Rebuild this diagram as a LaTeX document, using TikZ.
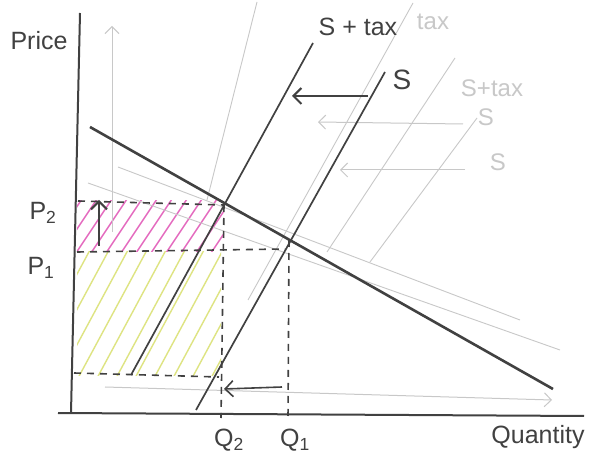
\documentclass[tikz,border=0pt]{standalone}
\usepackage{fontspec}
\setmainfont{Liberation Sans}
\usetikzlibrary{arrows.meta}
\definecolor{ink}{RGB}{65,65,65}
\definecolor{faint}{RGB}{200,200,200}
\definecolor{hpink}{RGB}{228,105,190}
\definecolor{hyellow}{RGB}{222,228,130}
\tikzset{
  axis/.style={draw=ink, line width=2pt},
  demand/.style={draw=ink, line width=2.6pt},
  supply/.style={draw=ink, line width=1.7pt},
  guide/.style={draw=ink, line width=1.6pt, dash pattern=on 7pt off 6pt},
  ghost/.style={draw=faint, line width=0.9pt},
  shift arrow/.style={draw=ink, line width=2pt, -{Straight Barb[length=8pt,width=16pt]}},
  ghost arrow/.style={draw=faint, line width=1pt, -{Straight Barb[length=7pt,width=14pt]}},
  lbl/.style={text=ink, font=\fontsize{25}{28}\selectfont, inner sep=0pt},
  ghostlbl/.style={text=faint, font=\fontsize{24}{27}\selectfont, inner sep=0pt},
}
\begin{document}
\begin{tikzpicture}[x=1pt,y=-1pt]
\useasboundingbox[fill=white] (0,0) rectangle (590,473);

% ---------- hatched areas ----------
\begin{scope}
  \clip (77,201) rectangle (224,252);
  \foreach \i in {0,...,16} {
    \draw[hpink, line width=1.4pt] (40+15*\i,262) -- (84+15*\i,196);
  }
\end{scope}
\begin{scope}
  \clip (77,252) rectangle (221,376);
  \foreach \i in {0,...,15} {
    \draw[hyellow, line width=1.4pt] (20+19*\i,380) -- (90+19*\i,250);
  }
\end{scope}

% ---------- faint erased pencil work ----------
\coordinate (gvA) at (112,232); \coordinate (gvB) at (112,26);
\draw[ghost arrow] (gvA) -- (gvB);
\coordinate (g1a) at (207,200); \coordinate (g1b) at (257,2);
\draw[ghost] (g1a) -- (g1b);
\coordinate (g2a) at (413,3); \coordinate (g2b) at (248,300);
\draw[ghost] (g2a) -- (g2b);
\coordinate (g3a) at (455,58); \coordinate (g3b) at (327,252);
\draw[ghost] (g3a) -- (g3b);
\coordinate (g4a) at (477,118); \coordinate (g4b) at (370,262);
\draw[ghost] (g4a) -- (g4b);
\coordinate (g5a) at (88,183); \coordinate (g5b) at (560,350);
\draw[ghost] (g5a) -- (g5b);
\coordinate (g6a) at (118,167); \coordinate (g6b) at (520,320);
\draw[ghost] (g6a) -- (g6b);
\coordinate (g7a) at (463,124); \coordinate (g7b) at (318,122);
\draw[ghost arrow] (g7a) -- (g7b);
\coordinate (g8a) at (465,170); \coordinate (g8b) at (340,170);
\draw[ghost arrow] (g8a) -- (g8b);
\coordinate (g9a) at (105,387); \coordinate (g9b) at (552,400);
\draw[ghost arrow] (g9a) -- (g9b);
\node[ghostlbl] (gtax) at (433,22) {tax};
\node[ghostlbl] (gstax) at (492,88) {S+tax};
\node[ghostlbl] (gs1) at (486,117) {S};
\node[ghostlbl] (gs2) at (498,162) {S};

% ---------- axes ----------
\coordinate (yTop) at (80,13);
\coordinate (origin) at (71,413);
\coordinate (xStart) at (58,413);
\coordinate (xEnd) at (584,416);
\draw[axis] (yTop) -- (origin);
\draw[axis] (xStart) -- (xEnd);

% ---------- curves ----------
\coordinate (dA) at (90,127);
\coordinate (dB) at (553,389);
\coordinate (sTop) at (385,72);
\coordinate (sBot) at (196,410);
\coordinate (tTop) at (313,43);
\coordinate (tBot) at (131,375);
\draw[demand] (dA) -- (dB);
\draw[supply] (sTop) -- (sBot);
\draw[supply] (tTop) -- (tBot);

\coordinate (E1) at (289,240);
\coordinate (E2) at (224,205);

% ---------- dashed guides ----------
\coordinate (p2L) at (78,201);
\coordinate (p1L) at (77,252);
\coordinate (p1R) at (285,249);
\coordinate (q2B) at (221,418);
\coordinate (q1B) at (288,421);
\coordinate (bL) at (74,373);
\coordinate (bR) at (219,377);
\draw[guide] (p2L) -- (E2);
\draw[guide] (p1L) -- (p1R);
\draw[guide] (E2) -- (q2B);
\draw[guide] (E1) -- (q1B);
\draw[guide] (bL) -- (bR);

% ---------- shift arrows ----------
\coordinate (aUpA) at (99,246); \coordinate (aUpB) at (99,200);
\draw[shift arrow] (aUpA) -- (aUpB);
\coordinate (aTopA) at (368,96); \coordinate (aTopB) at (292,96);
\draw[shift arrow] (aTopA) -- (aTopB);
\coordinate (aLowA) at (282,387); \coordinate (aLowB) at (224,389);
\draw[shift arrow, line width=1.6pt] (aLowA) -- (aLowB);

% ---------- labels ----------
\node[lbl] (price) at (39,41) {Price};
\node[lbl] (stax) at (358,27) {S + tax};
\node[lbl, font=\fontsize{28}{30}\selectfont] (slab) at (402,80) {S};
\node[lbl] (p2) at (43,213) {P\textsubscript{2}};
\node[lbl] (p1) at (41,268) {P\textsubscript{1}};
\node[lbl] (q2) at (229,440) {Q\textsubscript{2}};
\node[lbl] (q1) at (295,440) {Q\textsubscript{1}};
\node[lbl] (qty) at (538,437) {Quantity};
\end{tikzpicture}
\end{document}
